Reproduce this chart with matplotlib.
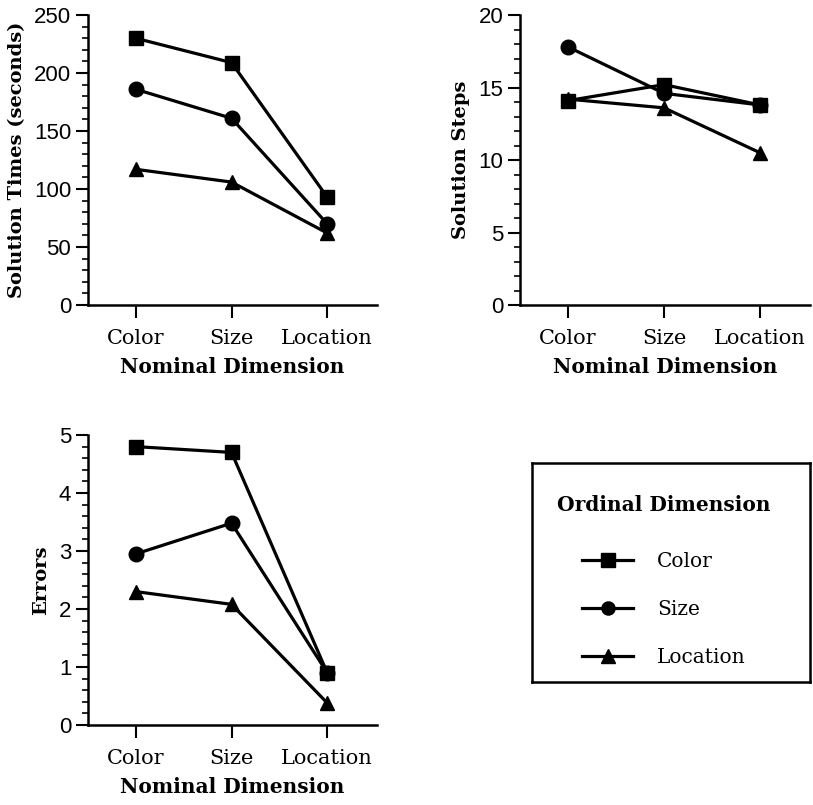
import matplotlib.pyplot as plt
from matplotlib.ticker import MultipleLocator

# nominal dimension categories (x axis)
nominal = ['Color', 'Size', 'Location']

# ordinal dimension series
times_color = [230, 209, 93]
times_size = [186, 161, 70]
times_location = [117, 106, 62]

steps_color = [14.1, 15.2, 13.8]
steps_size = [17.8, 14.6, 13.8]
steps_location = [14.2, 13.6, 10.5]

errors_color = [4.8, 4.7, 0.9]
errors_size = [2.95, 3.48, 0.9]
errors_location = [2.3, 2.08, 0.38]

series_names = ['Color', 'Size', 'Location']
markers = ['s', 'o', '^']
zorders = [4, 3.5, 3]

serif = ['DejaVu Serif']
sans = ['Liberation Sans', 'DejaVu Sans']


def panel(ax, data, ylabel, ymax, major, minor):
    x = range(len(nominal))
    for vals, name, m, z in zip(data, series_names, markers, zorders):
        ax.plot(x, vals, color='black', lw=2.3, marker=m, ms=10.5,
                label=name, zorder=z, clip_on=False)
    ax.set_xlim(-0.5, 2.52)
    ax.set_ylim(0, ymax)
    ax.yaxis.set_major_locator(MultipleLocator(major))
    ax.yaxis.set_minor_locator(MultipleLocator(minor))
    ax.set_xticks(list(x))
    ax.set_xticklabels(nominal, fontsize=15, family=serif)
    for lab in ax.get_yticklabels():
        lab.set_family(sans)
        lab.set_fontsize(16)
    ax.spines['top'].set_visible(False)
    ax.spines['right'].set_visible(False)
    ax.spines['left'].set_linewidth(1.8)
    ax.spines['bottom'].set_linewidth(1.8)
    ax.tick_params(axis='both', which='major', length=9, width=1.5,
                   direction='out')
    ax.tick_params(axis='x', which='major', pad=8)
    ax.tick_params(axis='y', which='major', pad=3)
    ax.tick_params(axis='y', which='minor', length=4, width=1.2)
    ax.set_xlabel('Nominal Dimension', fontsize=14.5, fontweight='bold',
                  family=serif, labelpad=7)
    ax.set_ylabel(ylabel, fontsize=14, fontweight='bold', family=serif,
                  labelpad=6)


fig = plt.figure(figsize=(8.13, 8.05), dpi=100)
ax1 = fig.add_axes([0.1082, 0.6211, 0.3555, 0.3602])
ax2 = fig.add_axes([0.6396, 0.6211, 0.3567, 0.3602])
ax3 = fig.add_axes([0.1082, 0.0994, 0.3555, 0.3602])

panel(ax1, [times_color, times_size, times_location],
      'Solution Times (seconds)', 250, 50, 10)
panel(ax2, [steps_color, steps_size, steps_location],
      'Solution Steps', 20, 5, 1)
panel(ax3, [errors_color, errors_size, errors_location],
      'Errors', 5, 1, 0.2)

# legend box drawn as its own framed axes
ax4 = fig.add_axes([532 / 813, 1 - 682 / 805, 278 / 813, 219 / 805])
ax4.set_xticks([])
ax4.set_yticks([])
for sp in ax4.spines.values():
    sp.set_linewidth(1.8)

handles, labels = ax1.get_legend_handles_labels()
leg = ax4.legend(handles, labels, loc='upper center',
                 bbox_to_anchor=(0.475, 0.855), borderaxespad=0, borderpad=0,
                 title='Ordinal Dimension', frameon=False,
                 labelspacing=1.43, handlelength=2.5, handletextpad=1.2,
                 markerscale=0.9,
                 prop={'family': serif, 'size': 14.5},
                 title_fontproperties={'family': serif, 'size': 14.5,
                                       'weight': 'bold'})
leg._legend_box.sep = 27

fig.savefig('out.png', dpi=100)
